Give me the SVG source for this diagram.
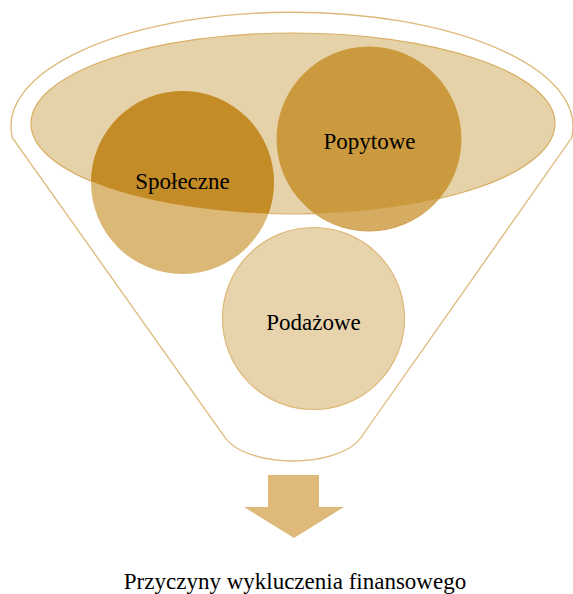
<svg xmlns="http://www.w3.org/2000/svg" width="573" height="594" viewBox="0 0 573 594">
  <style>
    .lbl { font-family: "Liberation Serif", "DejaVu Serif", serif; font-size: 23px; fill: #000; text-anchor: middle; }
    .funnel { fill: #fff; stroke: #DDB878; stroke-width: 1.3; }
  </style>
  <defs>
    <clipPath id="ellClip">
      <ellipse cx="293" cy="123.5" rx="262" ry="90.5"/>
    </clipPath>
  </defs>
  <g id="funnel">
    <path class="funnel" d="M 12.5,138 A 281 114 0 1 1 571.5,138 L 362,436 C 350,455 316,461 293,461 C 270,461 236,455 224,436 Z"/>
  </g>
  <g id="top-ellipse">
    <ellipse cx="293" cy="123.5" rx="262" ry="90.5" fill="#E6D2A8" stroke="#D8AE62" stroke-width="1.2"/>
  </g>
  <g id="spoleczne">
    <circle cx="182.5" cy="182.5" r="91.5" fill="#DCB877"/>
    <circle cx="182.5" cy="182.5" r="91.5" fill="#C48C27" clip-path="url(#ellClip)"/>
    <text class="lbl" x="182.5" y="189">Społeczne</text>
  </g>
  <g id="popytowe">
    <circle cx="369" cy="139" r="92" fill="#D6AC62" stroke="#D0A04A" stroke-width="1"/>
    <circle cx="369" cy="139" r="92" fill="#CB9A3E" clip-path="url(#ellClip)"/>
    <text class="lbl" x="369.5" y="149">Popytowe</text>
  </g>
  <g id="podazowe">
    <circle cx="313.5" cy="318.5" r="91" fill="#E8D4AC" stroke="#DDB878" stroke-width="1.2"/>
    <text class="lbl" x="313.5" y="330">Podażowe</text>
  </g>
  <g id="connectors">
    <polygon points="268,475 319,475 319,507 344,507 294,538 244,507 268,507" fill="#DEB97A"/>
  </g>
  <g id="caption">
    <text class="lbl" x="295" y="589">Przyczyny wykluczenia finansowego</text>
  </g>
</svg>
